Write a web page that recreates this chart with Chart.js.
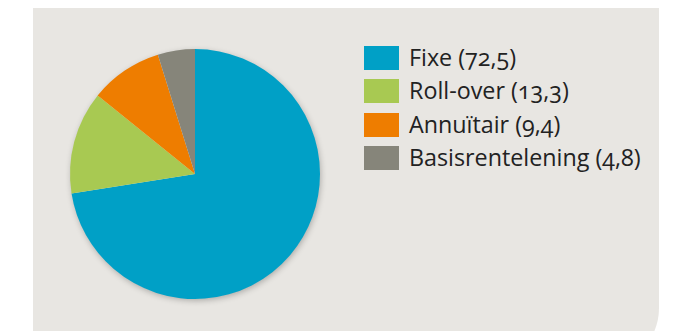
<!DOCTYPE html>
<html>
<head>
<meta charset="utf-8">
<script src="https://cdn.jsdelivr.net/npm/chart.js@4.4.1/dist/chart.umd.min.js"></script>
<style>
  html, body { margin: 0; padding: 0; background: #ffffff; overflow: hidden; }
  body { width: 675px; height: 331px; position: relative; }
  #panel {
    position: absolute; left: 33px; top: 8px; width: 626px; height: 360px;
    background: #e8e6e2; border-bottom-right-radius: 60px;
  }
  #pieBox { position: absolute; left: 50px; top: 29px; width: 290px; height: 290px; }
  #legend {
    position: absolute; left: 364px; top: 46px; margin: 0; padding: 0; list-style: none;
    font-family: "Open Sans", Lato, sans-serif; font-size: 23.3px; color: #222;
    font-feature-settings: "onum" 1;
  }
  #legend li { height: 33.3px; display: flex; align-items: flex-start; white-space: nowrap; }
  #legend span.box { display: inline-block; width: 35px; height: 24px; margin-right: 10px; }
  #legend span.txt { line-height: 23px; }
</style>
</head>
<body>
<div id="panel"></div>
<div id="pieBox"><canvas id="ChartCanvas1" width="290" height="290"></canvas></div>
<ul id="legend"></ul>
<script>
const categories = ['Fixe', 'Roll-over', 'Annuïtair', 'Basisrentelening'];
const shares = [72.5, 13.3, 9.4, 4.8];
const shareLabels = ['72,5', '13,3', '9,4', '4,8'];
const colours = ['#00a0c6', '#a8c952', '#ee7d00', '#86857a'];

Initialize();

function Initialize()
{
    // soft shadow under the whole pie
    const pieShadow = {
        id: 'pieShadow',
        beforeDatasetsDraw(chart) {
            const arc = chart.getDatasetMeta(0).data[0];
            if (!arc) return;
            const c = chart.ctx;
            c.save();
            c.shadowColor = 'rgba(0,0,0,0.28)';
            c.shadowBlur = 6;
            c.shadowOffsetX = 1;
            c.shadowOffsetY = 2;
            c.fillStyle = '#e8e6e2';
            c.beginPath();
            c.arc(arc.x, arc.y, arc.outerRadius - 0.5, 0, Math.PI * 2);
            c.fill();
            c.restore();
        }
    };

    const ctx = document.getElementById('ChartCanvas1').getContext('2d');

    new Chart(ctx,
    {
        type: 'pie',
        data: {
            labels: categories,
            datasets: [{
                data: shares,
                backgroundColor: colours,
                borderWidth: 0
            }]
        },
        options: {
            responsive: false,
            animation: false,
            layout: { padding: 20 },
            plugins: {
                legend: { display: false },
                tooltip: { enabled: false }
            }
        },
        plugins: [pieShadow]
    });

    // legend as html so the old-style figures can be used
    const ul = document.getElementById('legend');
    categories.forEach((name, i) => {
        const li = document.createElement('li');
        const box = document.createElement('span');
        box.className = 'box';
        box.style.background = colours[i];
        const txt = document.createElement('span');
        txt.className = 'txt';
        txt.textContent = name + ' (' + shareLabels[i] + ')';
        li.appendChild(box);
        li.appendChild(txt);
        ul.appendChild(li);
    });
}
</script>
</body>
</html>
